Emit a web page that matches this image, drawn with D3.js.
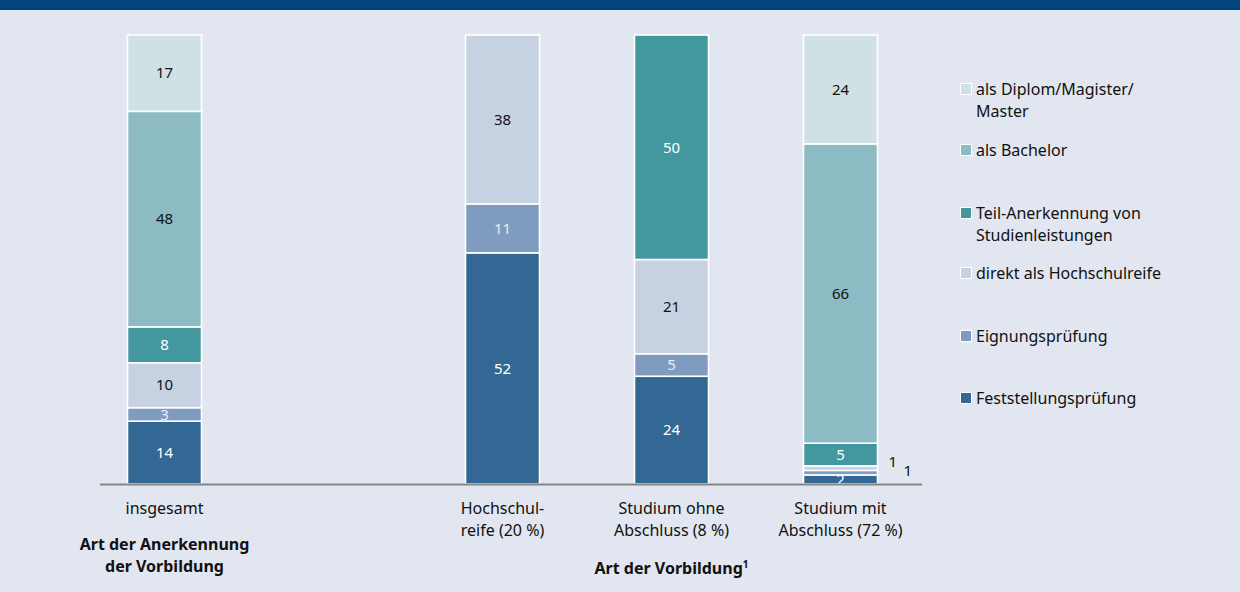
<!DOCTYPE html>
<html><head><meta charset="utf-8">
<script src="https://cdn.jsdelivr.net/npm/d3@7"></script>
<style>
html,body{margin:0;padding:0;background:#e1e6f0;}
svg{display:block;font-family:"Noto Sans",sans-serif;}
</style></head>
<body>
<svg id="chart" width="1240" height="592"></svg>
<script>
// ---- data ----
const categories = ["insgesamt", "Hochschul-\nreife (20 %)", "Studium ohne\nAbschluss (8 %)", "Studium mit\nAbschluss (72 %)"];
const seriesNames = ["Feststellungsprüfung", "Eignungsprüfung", "direkt als Hochschulreife", "Teil-Anerkennung von\nStudienleistungen", "als Bachelor", "als Diplom/Magister/\nMaster"];
const feststellung = [14, 52, 24, 2];
const eignung      = [3, 11, 5, 1];
const direkt       = [10, 38, 21, 1];
const teil         = [8, 0, 50, 5];
const bachelor     = [48, 0, 0, 66];
const diplom       = [17, 0, 0, 24];
const groupTitles = ["Art der Anerkennung\nder Vorbildung", "Art der Vorbildung"];

const colors = ["#336894", "#7f9bbf", "#c6d1e1", "#43979f", "#8dbbc4", "#d0e1e6"];
const labelColors = ["#ffffff", "#e8ecf4", "#111111", "#ffffff", "#111111", "#111111"];

const seriesValues = [feststellung, eignung, direkt, teil, bachelor, diplom];
const keys = seriesNames;
const rows = categories.map((c, i) => {
  const r = {cat: c};
  keys.forEach((k, j) => r[k] = seriesValues[j][i]);
  return r;
});

const svg = d3.select("#chart");
svg.append("rect").attr("x", 0).attr("y", 0).attr("width", 1240).attr("height", 10).attr("fill", "#00457b");

const SPACER = "__gap__";
const x = d3.scaleBand()
  .domain([categories[0], SPACER, ...categories.slice(1)])
  .range([80, 925])
  .paddingInner(0.562)
  .paddingOuter(0.281);
const y = d3.scaleLinear().domain([0, 1]).range([484, 35]);

const stack = d3.stack().keys(keys).offset(d3.stackOffsetExpand);
const stacked = stack(rows);

const g = svg.append("g");
stacked.forEach((s, si) => {
  const grp = g.append("g");
  grp.selectAll("rect").data(s.filter(d => d[1] - d[0] > 0)).join("rect")
    .attr("x", d => x(d.data.cat))
    .attr("width", x.bandwidth())
    .attr("y", d => y(d[1]))
    .attr("height", d => y(d[0]) - y(d[1]))
    .attr("fill", colors[si])
    .attr("stroke", "#ffffff")
    .attr("stroke-width", 1.6);
});

// value labels
stacked.forEach((s, si) => {
  s.forEach((d, ci) => {
    const v = d.data[keys[si]];
    if (!v) return;
    const cx = x(d.data.cat) + x.bandwidth() / 2;
    const cy = (y(d[0]) + y(d[1])) / 2;
    if (v <= 1) {
      // small values placed to the right of the bar
      const outside = si === 2 ? {dx: 11, dy: -6} : {dx: 26, dy: -2};
      g.append("text")
        .attr("x", x(d.data.cat) + x.bandwidth() + outside.dx)
        .attr("y", cy + outside.dy)
        .attr("dy", "0.35em")
        .attr("font-size", 15).attr("fill", "#111")
        .text(v);
    } else {
      g.append("text")
        .attr("x", cx).attr("y", cy).attr("dy", "0.35em")
        .attr("text-anchor", "middle")
        .attr("font-size", 15)
        .attr("fill", labelColors[si])
        .text(v);
    }
  });
});

// baseline axis
svg.append("line").attr("x1", 100).attr("x2", 922).attr("y1", y(0) + 0.5).attr("y2", y(0) + 0.5)
  .attr("stroke", "#858585").attr("stroke-width", 2);

// category labels
const catG = svg.append("g").attr("font-size", 16).attr("fill", "#111").attr("text-anchor", "middle");
categories.forEach(c => {
  const t = catG.append("text").attr("x", x(c) + x.bandwidth() / 2).attr("y", 514);
  c.split("\n").forEach((line, i) => {
    t.append("tspan").attr("x", x(c) + x.bandwidth() / 2).attr("dy", i ? 22 : 0).text(line);
  });
});

// group titles
const tG = svg.append("g").attr("font-size", 16).attr("font-weight", "bold").attr("fill", "#111").attr("text-anchor", "middle");
{
  const cx = x(categories[0]) + x.bandwidth() / 2;
  const t = tG.append("text").attr("x", cx).attr("y", 550);
  groupTitles[0].split("\n").forEach((line, i) => t.append("tspan").attr("x", cx).attr("dy", i ? 22 : 0).text(line));
  const cx2 = x(categories[2]) + x.bandwidth() / 2;
  const t2 = tG.append("text").attr("x", cx2).attr("y", 574);
  t2.append("tspan").text(groupTitles[1]);
  t2.append("tspan").attr("font-size", 10).attr("dy", -6).text("1");
}

// legend (top to bottom: reverse of stack order)
const legendY = [89, 150, 213, 273, 336, 398];
const lg = svg.append("g").attr("font-size", 16).attr("fill", "#111");
const legendOrder = d3.range(keys.length).reverse();
legendOrder.forEach((si, i) => {
  const yy = legendY[i];
  lg.append("rect").attr("x", 960.5).attr("y", yy - 5.5).attr("width", 11).attr("height", 11)
    .attr("fill", colors[si]).attr("stroke", "#fff").attr("stroke-width", 1);
  const t = lg.append("text").attr("x", 976).attr("y", yy);
  keys[si].split("\n").forEach((line, k) => t.append("tspan").attr("x", 976).attr("dy", k ? 22 : "0.35em").text(line));
});
</script>
</body></html>
